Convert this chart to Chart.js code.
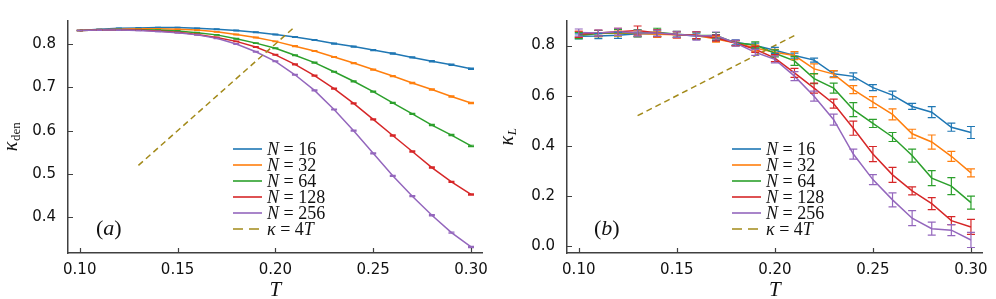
<!DOCTYPE html>
<html>
<head>
<meta charset="utf-8">
<script src="https://cdn.jsdelivr.net/npm/chart.js@4.4.0/dist/chart.umd.min.js"></script>
<style>
  body { margin: 0; background: #fff; }
  .wrap { display: flex; width: 996px; height: 299px; }
  .panel { position: relative; height: 299px; }
</style>
</head>
<body>
<div class="wrap">
  <div class="panel" style="width:496px"><canvas id="denChart"></canvas></div>
  <div class="panel" style="width:500px"><canvas id="lChart"></canvas></div>
</div>
<script>
// temperatures
const temps = [0.10, 0.11, 0.12, 0.13, 0.14, 0.15, 0.16, 0.17, 0.18, 0.19, 0.20,
               0.21, 0.22, 0.23, 0.24, 0.25, 0.26, 0.27, 0.28, 0.29, 0.30];
const sizes = [16, 32, 64, 128, 256];
const colors = ['#1f77b4', '#ff7f0e', '#2ca02c', '#d62728', '#9467bd'];
const lineColor = '#a38a1a';

// kappa = 4T reference line
const lineT = [0.13, 0.21];
const lineK = [0.52, 0.84];

// panel (a): kappa_den
const den16  = [0.831, 0.834, 0.836, 0.837, 0.838, 0.838, 0.836, 0.834, 0.831, 0.827, 0.822, 0.816, 0.809, 0.801, 0.794, 0.786, 0.778, 0.769, 0.760, 0.752, 0.743];
const den32  = [0.831, 0.833, 0.834, 0.835, 0.835, 0.834, 0.832, 0.828, 0.822, 0.815, 0.806, 0.795, 0.784, 0.770, 0.756, 0.741, 0.726, 0.710, 0.695, 0.679, 0.664];
const den64  = [0.831, 0.832, 0.833, 0.833, 0.832, 0.830, 0.826, 0.821, 0.812, 0.802, 0.790, 0.774, 0.757, 0.736, 0.714, 0.690, 0.664, 0.639, 0.613, 0.590, 0.565];
const den128 = [0.831, 0.832, 0.832, 0.832, 0.830, 0.827, 0.822, 0.815, 0.806, 0.793, 0.775, 0.753, 0.727, 0.697, 0.663, 0.626, 0.589, 0.552, 0.515, 0.482, 0.453];
const den256 = [0.831, 0.832, 0.832, 0.831, 0.829, 0.826, 0.821, 0.813, 0.800, 0.782, 0.760, 0.729, 0.693, 0.649, 0.600, 0.548, 0.496, 0.449, 0.405, 0.365, 0.332];
const denErr = [0.0005, 0.0005, 0.0005, 0.0005, 0.0005, 0.0006, 0.0006, 0.0007, 0.0008, 0.0008, 0.0009, 0.0010, 0.0010, 0.0011, 0.0012, 0.0012, 0.0013, 0.0013, 0.0014, 0.0014, 0.0015];

// panel (b): kappa_L
const L16  = [0.837, 0.838, 0.841, 0.847, 0.847, 0.844, 0.838, 0.832, 0.813, 0.800, 0.781, 0.760, 0.742, 0.687, 0.677, 0.632, 0.602, 0.557, 0.534, 0.474, 0.453];
const L32  = [0.845, 0.848, 0.850, 0.848, 0.845, 0.843, 0.840, 0.826, 0.810, 0.790, 0.773, 0.760, 0.707, 0.686, 0.624, 0.574, 0.525, 0.448, 0.415, 0.358, 0.292];
const L64  = [0.840, 0.848, 0.852, 0.850, 0.853, 0.845, 0.840, 0.840, 0.810, 0.803, 0.769, 0.739, 0.668, 0.630, 0.544, 0.489, 0.435, 0.361, 0.271, 0.239, 0.173];
const L128 = [0.845, 0.850, 0.855, 0.860, 0.850, 0.843, 0.842, 0.830, 0.810, 0.785, 0.750, 0.691, 0.630, 0.568, 0.470, 0.367, 0.284, 0.220, 0.169, 0.101, 0.076];
const L256 = [0.852, 0.850, 0.855, 0.850, 0.850, 0.845, 0.838, 0.840, 0.810, 0.773, 0.745, 0.678, 0.598, 0.504, 0.367, 0.265, 0.184, 0.111, 0.069, 0.063, 0.024];
const L16err  = [0.010, 0.010, 0.012, 0.012, 0.012, 0.010, 0.012, 0.012, 0.010, 0.010, 0.012, 0.010, 0.008, 0.012, 0.014, 0.012, 0.016, 0.012, 0.022, 0.016, 0.024];
const L32err  = [0.012, 0.012, 0.012, 0.012, 0.012, 0.012, 0.012, 0.012, 0.010, 0.012, 0.012, 0.016, 0.020, 0.014, 0.016, 0.022, 0.022, 0.018, 0.028, 0.020, 0.016];
const L64err  = [0.012, 0.012, 0.012, 0.014, 0.016, 0.012, 0.014, 0.012, 0.010, 0.012, 0.014, 0.018, 0.020, 0.020, 0.028, 0.016, 0.018, 0.026, 0.030, 0.034, 0.026];
const L128err = [0.012, 0.012, 0.014, 0.018, 0.014, 0.012, 0.014, 0.012, 0.010, 0.012, 0.014, 0.018, 0.020, 0.018, 0.028, 0.030, 0.030, 0.016, 0.024, 0.016, 0.030];
const L256err = [0.014, 0.012, 0.014, 0.012, 0.012, 0.012, 0.016, 0.014, 0.012, 0.012, 0.014, 0.018, 0.020, 0.022, 0.020, 0.020, 0.028, 0.030, 0.026, 0.022, 0.030];

// axis ticks
const xTicks = [0.10, 0.15, 0.20, 0.25, 0.30];
const denTicks = [0.4, 0.5, 0.6, 0.7, 0.8];
const lTicks = [0.0, 0.2, 0.4, 0.6, 0.8];

const AXIS = '#404040';
const SERIF = '"Liberation Serif", "DejaVu Serif", serif';

// draw a list of [text, italic] pieces starting at x, returns end x
function drawMath(ctx, parts, x, y, size) {
    parts.forEach(([txt, it]) => {
        ctx.font = (it ? 'italic ' : '') + size + 'px ' + SERIF;
        ctx.fillText(txt, x, y);
        x += ctx.measureText(txt).width;
    });
    return x;
}

const errorBars = {
    id: 'errorBars',
    afterDatasetsDraw(chart, args, opts) {
        const {ctx, chartArea: a, scales: {y}} = chart;
        ctx.save();
        ctx.beginPath();
        ctx.rect(a.left, a.top, a.right - a.left, a.bottom - a.top);
        ctx.clip();
        chart.data.datasets.forEach((ds, i) => {
            if (!ds.errs) return;
            const meta = chart.getDatasetMeta(i);
            ctx.strokeStyle = ds.borderColor;
            ctx.lineWidth = 1.2;
            meta.data.forEach((pt, j) => {
                const v = ds.data[j].y, e = ds.errs[j];
                const y1 = y.getPixelForValue(v + e), y2 = y.getPixelForValue(v - e);
                const c = opts.cap;
                ctx.beginPath();
                ctx.moveTo(pt.x, y1); ctx.lineTo(pt.x, y2);
                ctx.moveTo(pt.x - c, y1); ctx.lineTo(pt.x + c, y1);
                ctx.moveTo(pt.x - c, y2); ctx.lineTo(pt.x + c, y2);
                ctx.stroke();
            });
        });
        ctx.restore();
    }
};

const decorations = {
    id: 'decorations',
    afterDraw(chart, args, opts) {
        const {ctx, chartArea: a, scales: {x, y}} = chart;
        ctx.save();
        // inward tick marks
        ctx.strokeStyle = AXIS;
        ctx.lineWidth = 1.2;
        ctx.beginPath();
        x.ticks.forEach(t => {
            const px = Math.round(x.getPixelForValue(t.value)) + 0.5;
            ctx.moveTo(px, a.bottom); ctx.lineTo(px, a.bottom - 5);
        });
        y.ticks.forEach(t => {
            const py = Math.round(y.getPixelForValue(t.value)) + 0.5;
            ctx.moveTo(a.left, py); ctx.lineTo(a.left + 5, py);
        });
        ctx.stroke();

        ctx.fillStyle = '#111';
        ctx.textBaseline = 'middle';

        // x title
        ctx.textAlign = 'center';
        ctx.font = 'italic 21px ' + SERIF;
        ctx.fillText('T', (a.left + a.right) / 2, 290);

        // y title (rotated, with subscript)
        ctx.textAlign = 'left';
        ctx.save();
        ctx.translate(opts.yTitleX, (a.top + a.bottom) / 2);
        ctx.rotate(-Math.PI / 2);
        ctx.font = 'italic 20px ' + SERIF;
        const kw = ctx.measureText('κ').width;
        ctx.font = (opts.subItalic ? 'italic ' : '') + '13px ' + SERIF;
        const sw = ctx.measureText(opts.sub).width;
        const x0 = -(kw + sw) / 2;
        ctx.font = 'italic 20px ' + SERIF;
        ctx.fillText('κ', x0, 0);
        ctx.font = (opts.subItalic ? 'italic ' : '') + '13px ' + SERIF;
        ctx.fillText(opts.sub, x0 + kw + 0.5, 5);
        ctx.restore();

        // panel label
        drawMath(ctx, [['(', false], [opts.panel, true], [')', false]], a.left + opts.panelDx, 229, 22);

        // legend
        const rows = [149, 165, 181, 197, 213, 229];
        chart.data.datasets.forEach((ds, i) => {
            const yy = rows[i];
            ctx.strokeStyle = ds.borderColor;
            ctx.lineWidth = 1.6;
            ctx.setLineDash(ds.borderDash && ds.borderDash.length ? [10, 6] : []);
            ctx.beginPath();
            ctx.moveTo(opts.legX, yy); ctx.lineTo(opts.legX + 29, yy);
            ctx.stroke();
            ctx.setLineDash([]);
            drawMath(ctx, ds.mathLabel, opts.legX + 34, yy + 1, 18);
        });
        ctx.restore();
    }
};

function makeChart(id, series, errs, yMin, yMax, yTicks, digits, yWidth, padRight, cap, deco) {
    const datasets = series.map((vals, i) => ({
        label: 'N = ' + sizes[i],
        mathLabel: [['N', true], [' = ', false], [String(sizes[i]), false]],
        data: temps.map((t, j) => ({x: t, y: vals[j]})),
        errs: errs[i],
        borderColor: colors[i],
        borderWidth: 1.5,
        pointRadius: 0,
        fill: false,
        order: 10 - i
    }));
    datasets.push({
        label: 'κ = 4T',
        mathLabel: [['κ', true], [' = ', false], ['4', false], ['T', true]],
        data: lineT.map((t, j) => ({x: t, y: lineK[j]})),
        borderColor: lineColor,
        borderWidth: 1.5,
        borderDash: [6, 4],
        pointRadius: 0,
        fill: false,
        order: 1
    });

    return new Chart(document.getElementById(id), {
        type: 'line',
        data: {datasets: datasets},
        options: {
            responsive: true,
            maintainAspectRatio: false,
            animation: false,
            layout: {padding: {top: 12, right: padRight, left: 0, bottom: 0}},
            scales: {
                x: {
                    type: 'linear',
                    min: 0.094,
                    max: 0.306,
                    afterBuildTicks: s => { s.ticks = xTicks.map(v => ({value: v})); },
                    afterFit: s => { s.height = 46; },
                    ticks: {
                        callback: v => v.toFixed(2),
                        color: '#111',
                        font: {family: '"DejaVu Sans", sans-serif', size: 15},
                        padding: 8,
                        maxRotation: 0
                    },
                    grid: {display: false, drawTicks: false},
                    border: {display: true, color: AXIS, width: 1.5}
                },
                y: {
                    min: yMin,
                    max: yMax,
                    afterBuildTicks: s => { s.ticks = yTicks.map(v => ({value: v})); },
                    afterFit: s => { s.width = yWidth; },
                    ticks: {
                        callback: v => v.toFixed(digits),
                        color: '#111',
                        font: {family: '"DejaVu Sans", sans-serif', size: 15},
                        padding: 12
                    },
                    grid: {display: false, drawTicks: false},
                    border: {display: true, color: AXIS, width: 1.5}
                }
            },
            plugins: {
                legend: {display: false},
                tooltip: {enabled: false},
                errorBars: {cap: cap},
                decorations: deco
            }
        },
        plugins: [errorBars, decorations]
    });
}

makeChart('denChart',
    [den16, den32, den64, den128, den256],
    [denErr, denErr, denErr, denErr, denErr],
    0.318, 0.853, denTicks, 1, 68, 10, 3,
    {yTitleX: 12, sub: 'den', subItalic: false, panel: 'a', panelDx: 28, legX: 233});

makeChart('lChart',
    [L16, L32, L64, L128, L256],
    [L16err, L32err, L64err, L128err, L256err],
    -0.028, 0.898, lTicks, 1, 71, 12, 4,
    {yTitleX: 12, sub: 'L', subItalic: true, panel: 'b', panelDx: 27, legX: 236});
</script>
</body>
</html>
